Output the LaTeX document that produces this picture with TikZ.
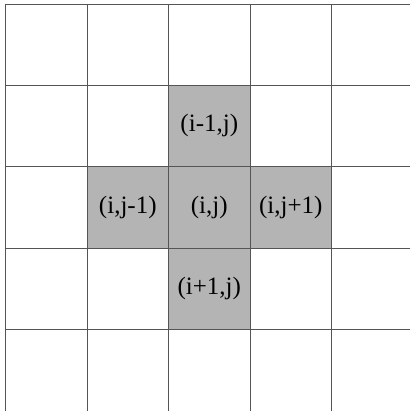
\documentclass[tikz,border=0pt]{standalone}
\usepackage{fontspec}
\setmainfont{Liberation Serif}
\definecolor{cellgray}{RGB}{180,180,180}
\definecolor{linegray}{RGB}{85,85,85}
\newcommand{\celltext}[1]{\raisebox{-3pt}{#1}}
\begin{document}
\begin{tikzpicture}[x=1pt,y=1pt,
  cellbox/.style={rectangle, fill=cellgray, draw=none, inner sep=0pt,
    minimum width=81.5pt, minimum height=81.2pt,
    font=\fontsize{25}{29}\selectfont},
  gridline/.style={draw=linegray, line width=1pt}]
\useasboundingbox (0,0) rectangle (410,411);
\fill[white] (0,0) rectangle (410,411);
% cell centres: columns x = 46.25 + 81.5*c ; rows y = 411 - (45.1 + 81.2*r)
\node[cellbox] (up)    at (209.3, 285.1) {\celltext{(i-1,j)}};
\node[cellbox] (left)  at (127.8, 203.9) {\celltext{(i,j-1)}};
\node[cellbox] (mid)   at (209.3, 203.9) {\celltext{(i,j)}};
\node[cellbox] (right) at (290.8, 203.9) {\celltext{(i,j+1)}};
\node[cellbox] (down)  at (209.3, 122.7) {\celltext{(i+1,j)}};
% grid lines
\foreach \x in {5.5,87,168.5,250,331.5}
  \draw[gridline] (\x,406.5) -- (\x,0);
\foreach \y in {4.5,85.7,166.9,248.1,329.3}
  \draw[gridline] (5,411-\y) -- (410,411-\y);
\end{tikzpicture}
\end{document}
